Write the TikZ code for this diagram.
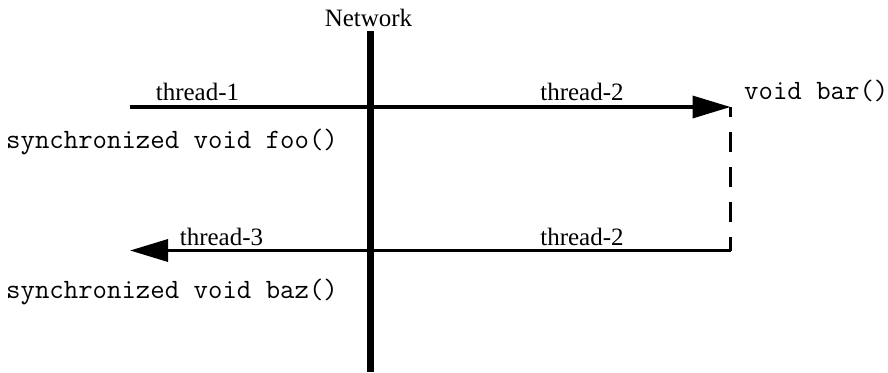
\documentclass[tikz,border=0pt]{standalone}
\usepackage{fontspec}
\setmainfont{Liberation Serif}
\usetikzlibrary{arrows.meta}
\begin{document}
\begin{tikzpicture}[x=1pt,y=-1pt,
  lbl/.style={anchor=base,inner sep=0pt,font=\fontsize{25}{30}\selectfont},
  code/.style={anchor=base west,inner sep=0pt,font=\ttfamily\fontsize{28}{32}\selectfont},
  flow/.style={line width=3.5pt,-{Triangle[length=38pt,width=22pt]}},
  dashline/.style={line width=3pt,dash pattern=on 20pt off 15pt,dash phase=10pt}]
\useasboundingbox (0,0) rectangle (888,372);
% network bar
\coordinate (ntop) at (370.5,31);
\coordinate (nbot) at (370.5,372);
\draw[line width=7pt] (ntop) -- (nbot);
\node[lbl] (net) at (368.5,27) {Network};
% coordinates
\coordinate (s1) at (130,107);
\coordinate (t1) at (730.5,107);
\coordinate (c2) at (730.5,250.5);
\coordinate (t3) at (130,250.5);
\draw[flow] (s1) -- (t1);
\draw[dashline] (t1) -- (c2);
\draw[flow] (c2) -- (t3);
% labels
\node[lbl] (th1) at (197.5,100) {thread-1};
\node[lbl] (th2a) at (582,100) {thread-2};
\node[lbl] (th3) at (221.5,245) {thread-3};
\node[lbl] (th2b) at (582,245) {thread-2};
\node[code] (bar) at (744,99) {void bar()};
\node[code] (foo) at (6,148) {synchronized void foo()};
\node[code] (baz) at (6,298) {synchronized void baz()};
\end{tikzpicture}
\end{document}
